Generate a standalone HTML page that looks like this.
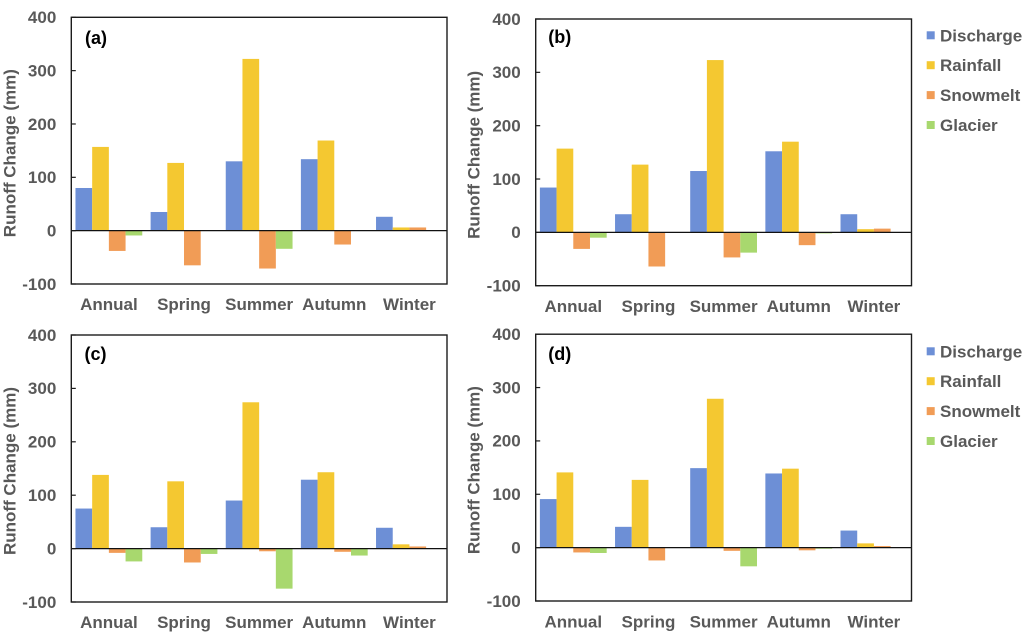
<!DOCTYPE html>
<html lang="en">
<head>
<meta charset="utf-8">
<title>Runoff Change</title>
<style>
html,body{margin:0;padding:0;background:#fff;width:1032px;height:636px;overflow:hidden}
svg{display:block;filter:blur(0.35px)}
text{font-family:"Liberation Sans",Arial,sans-serif;font-weight:bold;font-size:17px;fill:#595959}
</style>
</head>
<body>
<svg id="chart" xmlns="http://www.w3.org/2000/svg" width="1032" height="636" viewBox="0 0 1032 636"></svg>
<script>
const categories = ['Annual', 'Spring', 'Summer', 'Autumn', 'Winter'];
const seriesNames = ['Discharge', 'Rainfall', 'Snowmelt', 'Glacier'];
const yTicks = [400, 300, 200, 100, 0, -100];

const dischargeA = [80, 35, 130, 134, 26];
const rainfallA = [157, 127, 322, 169, 6];
const snowmeltA = [-38, -65, -71, -26, 6];
const glacierA = [-9, 0, -34, 0, 0];

const dischargeB = [84, 34, 115, 152, 34];
const rainfallB = [157, 127, 323, 170, 6];
const snowmeltB = [-31, -64, -47, -24, 7];
const glacierB = [-10, 0, -38, -2, 0];

const dischargeC = [75, 40, 90, 129, 39];
const rainfallC = [138, 126, 274, 143, 8];
const snowmeltC = [-8, -26, -5, -6, 4];
const glacierC = [-24, -10, -75, -13, 0];

const dischargeD = [91, 39, 149, 139, 32];
const rainfallD = [141, 127, 279, 148, 8];
const snowmeltD = [-9, -24, -6, -5, 3];
const glacierD = [-10, 0, -35, -2, 0];

const colors = ['#6D8FD6', '#F4C831', '#F19C56', '#A8D86E'];
const NS = 'http://www.w3.org/2000/svg';
const root = document.getElementById('chart');

function make(parent, tag, attrs, txt) {
  const el = document.createElementNS(NS, tag);
  for (const k in attrs) el.setAttribute(k, attrs[k]);
  if (txt !== undefined) el.textContent = txt;
  parent.appendChild(el);
  return el;
}

function drawPanel(p) {
  const g = make(root, 'g', {});
  
  

  const yScale = v => p.bottom - (v + 100) / 500 * (p.bottom - p.top);
  const catW = (p.right - p.left) / categories.length;
  const barW = catW / 4.5;
  const xBar = (c, s) => p.left + c * catW + barW * 0.25 + s * barW;

  make(g, 'rect', {x: p.left, y: p.top, width: p.right - p.left, height: p.bottom - p.top, fill: '#fff'});

  p.series.forEach((vals, s) => {
    vals.forEach((v, c) => {
      if (v === 0) return;
      const y0 = yScale(0), y1 = yScale(v);
      const bar = make(g, 'rect', {
        x: xBar(c, s).toFixed(2),
        y: Math.min(y0, y1).toFixed(2),
        width: barW.toFixed(2),
        height: Math.abs(y1 - y0).toFixed(2),
        fill: colors[s]
      });
      
      
    });
  });

  const zero = make(g, 'line', {x1: p.left, x2: p.right, y1: yScale(0), y2: yScale(0), stroke: '#111', 'stroke-width': 1.3});
  
  

  const frame = make(g, 'rect', {x: p.left, y: p.top, width: p.right - p.left, height: p.bottom - p.top, fill: 'none', stroke: '#1c1c1c', 'stroke-width': 1.4});
  
  

  yTicks.forEach(t => {
    const y = yScale(t);
    const tick = make(g, 'line', {x1: p.left, x2: p.left + 4.5, y1: y, y2: y, stroke: '#1c1c1c', 'stroke-width': 1.2});
    
    
    const label = make(g, 'text', {x: p.left - 15, y: y + 5.8, 'text-anchor': 'end'}, String(t));
    
    
  });

  categories.forEach((name, c) => {
    const label = make(g, 'text', {x: p.left + (c + 0.5) * catW, y: p.labelY, 'text-anchor': 'middle'}, name);
    
    
  });

  const titleY = (p.top + p.bottom) / 2 + 2.5;
  const title = make(g, 'text', {x: 0, y: 0, 'text-anchor': 'middle', transform: 'translate(' + (p.left - 56) + ' ' + titleY + ') rotate(-90)'}, 'Runoff Change (mm)');
  
  

  const tag = make(g, 'text', {x: p.tagX, y: p.tagY, style: 'font-size:18px;fill:#000'}, '(' + p.id + ')');
  
  

  if (p.legendY) {
    const lg = make(g, 'g', {});
    
    
    seriesNames.forEach((name, s) => {
      const cy = p.legendY + s * 29.9;
      const sw = make(lg, 'rect', {x: 926.7, y: cy - 4, width: 8, height: 8, fill: colors[s]});
      
      
      const tx = make(lg, 'text', {x: 940, y: cy + 6}, name);
      
      
    });
  }
}

drawPanel({id: 'a', left: 71.3, right: 447, top: 17.3, bottom: 284, labelY: 310, tagX: 85, tagY: 44,
  series: [dischargeA, rainfallA, snowmeltA, glacierA]});
drawPanel({id: 'b', left: 535.7, right: 911.5, top: 19, bottom: 285.7, labelY: 312, tagX: 548.3, tagY: 43, legendY: 35.3,
  series: [dischargeB, rainfallB, snowmeltB, glacierB]});
drawPanel({id: 'c', left: 71.3, right: 447, top: 335, bottom: 602, labelY: 628, tagX: 84.5, tagY: 360,
  series: [dischargeC, rainfallC, snowmeltC, glacierC]});
drawPanel({id: 'd', left: 535.7, right: 911.5, top: 334.2, bottom: 601, labelY: 627.5, tagX: 548.3, tagY: 360, legendY: 351.3,
  series: [dischargeD, rainfallD, snowmeltD, glacierD]});
</script>
</body>
</html>
